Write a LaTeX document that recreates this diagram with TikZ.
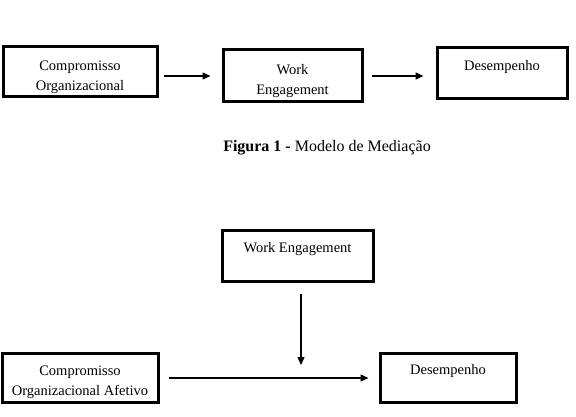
\documentclass[tikz,border=0pt]{standalone}
\usepackage{fontspec}
\setmainfont{Liberation Serif}
\usetikzlibrary{arrows.meta}
\newcommand{\alto}{\rule{0pt}{20pt}}
\tikzset{
  caixa/.style={draw, line width=3pt, align=center, inner sep=0pt,
    font=\fontsize{14.5}{20}\selectfont},
  seta/.style={line width=1.3pt, -{Triangle[length=8pt,width=7pt]}}
}
\begin{document}
\begin{tikzpicture}[x=1pt, y=-1pt]
          \useasboundingbox (0,0) rectangle (576,417);
          % modelo de mediacao
          \node [caixa, minimum width=154pt, minimum height=50pt] (co1) at (80,72) {\alto Compromisso\\Organizacional};
          \node [caixa, minimum width=139pt, minimum height=52pt] (we1) at (292.5,76) {\alto Work\\Engagement};
          \node [caixa, minimum width=130pt, minimum height=51pt] (de1) at (502,73.5) {\alto Desempenho\\\strut};
          \draw [seta, shorten <=5pt, shorten >=11pt] (co1.east |- we1.west) -- (we1.west);
          \draw [seta, shorten <=8pt, shorten >=12pt] (we1.east) -- (we1.east -| de1.west);
          \node [font=\fontsize{16}{19}\selectfont] (fig1) at (327,148) {\textbf{Figura 1 -} Modelo de Mediação};
          % modelo de moderacao
          \node [caixa, minimum width=151pt, minimum height=51pt] (we2) at (297.5,255.5) {\alto Work Engagement\\\strut};
          \node [caixa, minimum width=156pt, minimum height=49pt] (co2) at (80,377.5) {\alto Compromisso\\Organizacional Afetivo};
          \node [caixa, minimum width=136pt, minimum height=49pt] (de2) at (448,377.5) {\alto Desempenho\\\strut};
          \coordinate (meio) at (301,378);
          \draw [seta, shorten <=9pt, shorten >=10pt] (co2.east |- meio) -- (meio -| de2.west);
          \draw [seta, shorten <=11pt, shorten >=13pt] (we2.south -| meio) -- (meio);
      \end{tikzpicture}
\end{document}
